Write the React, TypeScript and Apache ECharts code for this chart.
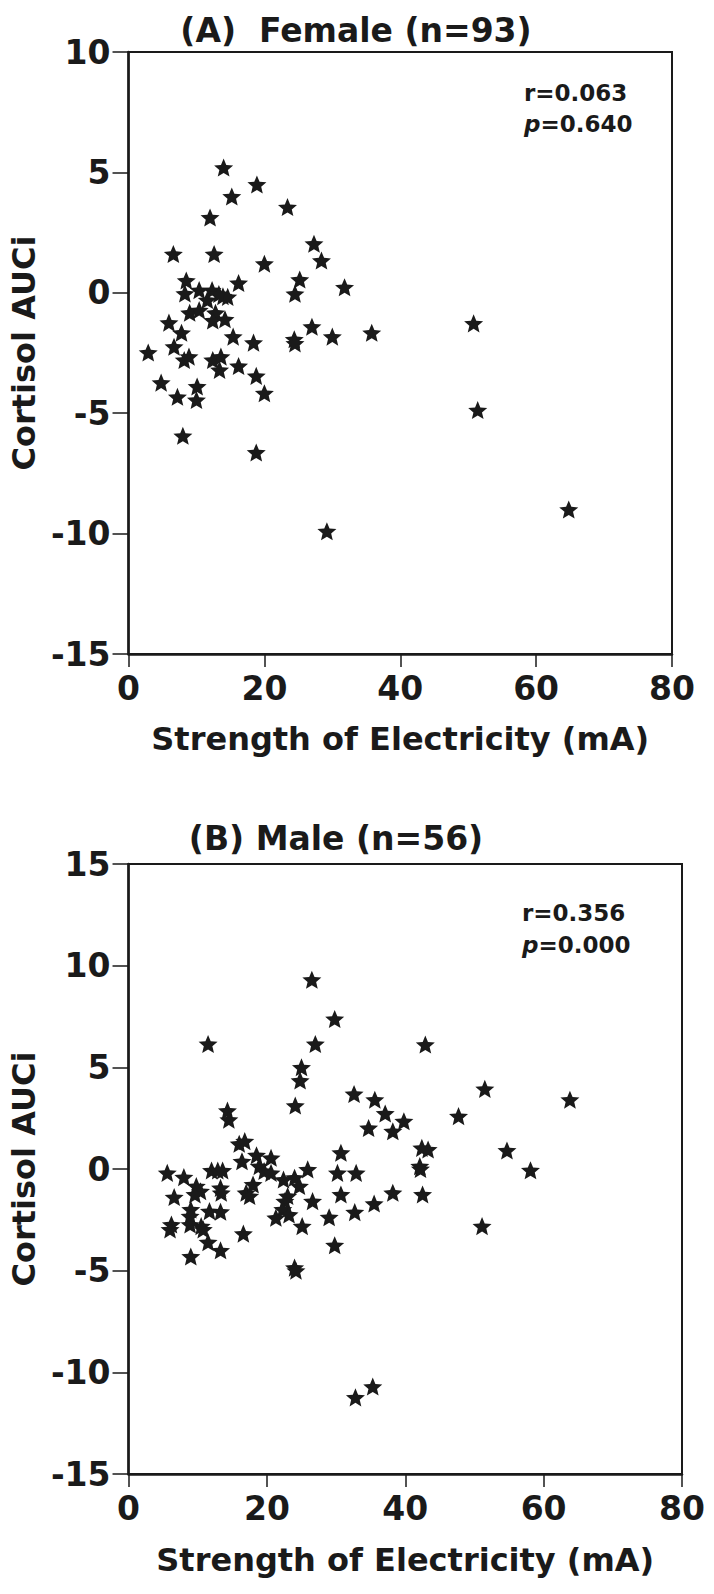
import React, { useEffect, useRef } from "react";
import * as echarts from "echarts";

// Panel A: Female
const femaleX = [14.0, 18.9, 15.2, 23.4, 12.0, 6.6, 12.6, 27.3, 28.4, 20.0, 8.5, 16.2, 25.2, 31.8, 8.3, 10.4, 12.3, 13.9, 14.6, 13.3, 24.5, 11.6, 9.0, 10.4, 12.8, 12.4, 14.2, 5.95, 7.8, 27.0, 30.0, 35.8, 15.4, 18.4, 24.4, 24.5, 2.9, 6.7, 8.2, 8.9, 12.4, 13.6, 13.4, 16.2, 18.8, 20.0, 4.8, 10.1, 7.2, 10.0, 8.0, 18.8, 29.2, 50.8, 51.4, 64.8];
const femaleY = [5.2, 4.5, 4.0, 3.56, 3.13, 1.61, 1.61, 2.04, 1.34, 1.21, 0.51, 0.41, 0.55, 0.23, -0.03, 0.11, 0.11, -0.14, -0.17, -0.05, -0.04, -0.3, -0.83, -0.72, -0.83, -1.15, -1.1, -1.24, -1.66, -1.41, -1.82, -1.66, -1.82, -2.07, -1.93, -2.1, -2.48, -2.24, -2.79, -2.65, -2.79, -2.65, -3.2, -3.04, -3.45, -4.17, -3.73, -3.89, -4.32, -4.45, -5.94, -6.63, -9.9, -1.27, -4.87, -9.0];

// Panel B: Male
const maleX = [26.5, 29.8, 11.5, 27.0, 25.0, 42.9, 24.8, 24.1, 32.6, 35.6, 37.1, 39.8, 34.7, 38.2, 14.3, 14.5, 16.0, 16.8, 18.5, 20.6, 16.4, 18.9, 19.6, 20.6, 30.7, 42.4, 43.3, 42.1, 42.2, 5.6, 12.0, 12.9, 13.6, 8.0, 9.8, 10.4, 9.6, 13.3, 13.4, 6.6, 17.0, 17.5, 18.0, 22.4, 24.0, 25.9, 24.7, 23.0, 30.2, 32.9, 30.7, 38.2, 42.5, 26.6, 35.5, 32.7, 29.0, 22.6, 22.3, 21.3, 23.2, 25.1, 9.0, 8.9, 11.7, 13.3, 6.2, 6.0, 8.9, 10.5, 10.8, 16.6, 51.5, 63.8, 47.7, 54.7, 58.1, 51.1, 32.8, 35.3, 9.0, 11.5, 13.3, 24.0, 24.2, 29.8];
const maleY = [9.31, 7.38, 6.15, 6.15, 5.0, 6.12, 4.35, 3.12, 3.69, 3.41, 2.73, 2.35, 2.02, 1.86, 2.87, 2.43, 1.24, 1.37, 0.68, 0.55, 0.38, 0.14, -0.1, -0.19, 0.8, 1.04, 0.96, 0.14, 0.0, -0.19, -0.07, -0.07, -0.07, -0.4, -0.84, -1.09, -1.25, -0.93, -1.17, -1.38, -1.17, -1.33, -0.76, -0.52, -0.43, -0.02, -0.84, -1.33, -0.19, -0.19, -1.25, -1.17, -1.25, -1.58, -1.7, -2.12, -2.37, -1.58, -1.99, -2.4, -2.24, -2.81, -1.99, -2.32, -2.07, -2.1, -2.73, -2.97, -2.73, -2.81, -2.97, -3.18, 3.94, 3.41, 2.6, 0.91, -0.06, -2.81, -11.23, -10.7, -4.3, -3.6, -4.0, -4.85, -5.0, -3.75];

const titleA = "(A)  Female (n=93)";
const titleB = "(B) Male (n=56)";
const statsA = ["r=0.063", "0.640"];
const statsB = ["r=0.356", "0.000"];
const xName = "Strength of Electricity (mA)";
const yName = "Cortisol AUCi";

const FONT = "DejaVu Sans";
const INK = "#1a1a1a";
const STAR = "path://M50,0 L63.23,31.8 L97.55,34.55 L71.4,56.95 L79.39,90.45 L50,72.5 L20.61,90.45 L28.6,56.95 L2.45,34.55 L36.77,31.8 Z";

function pairs(xs: number[], ys: number[]) {
  return xs.map((x, i) => [x, ys[i]]);
}

function xAxisCfg(gridIndex: number, nameGap: number) {
  return {
    gridIndex,
    type: "value",
    min: 0,
    max: 80,
    interval: 20,
    axisLine: { show: true, onZero: false, lineStyle: { color: INK, width: 2.5 } },
    axisTick: { show: true, inside: false, length: 13, lineStyle: { color: INK, width: 1.5 } },
    axisLabel: { fontFamily: FONT, fontWeight: "bold", fontSize: 33, color: INK, margin: 18 },
    splitLine: { show: false },
    name: xName,
    nameLocation: "middle",
    nameGap,
    nameTextStyle: { fontFamily: FONT, fontWeight: "bold", fontSize: 32, color: INK },
  };
}

function yAxisCfg(gridIndex: number, min: number, max: number) {
  return {
    gridIndex,
    type: "value",
    min,
    max,
    interval: 5,
    axisLine: { show: true, onZero: false, lineStyle: { color: INK, width: 2.5 } },
    axisTick: { show: true, inside: false, length: 16, lineStyle: { color: INK, width: 1.5 } },
    axisLabel: { fontFamily: FONT, fontWeight: "bold", fontSize: 33, color: INK, margin: 18 },
    splitLine: { show: false },
    name: yName,
    nameLocation: "middle",
    nameGap: 80,
    nameTextStyle: { fontFamily: FONT, fontWeight: "bold", fontSize: 32, color: INK },
  };
}

function statText(lines: string[], x: number, y1: number, y2: number) {
  return [
    {
      type: "text",
      x,
      y: y1,
      style: { text: lines[0], fontFamily: FONT, fontWeight: "bold", fontSize: 23, fill: INK, textVerticalAlign: "middle" },
    },
    {
      type: "text",
      x,
      y: y2,
      style: {
        text: "{i|p}=" + lines[1],
        fontFamily: FONT,
        fontWeight: "bold",
        fontSize: 23,
        fill: INK,
        textVerticalAlign: "middle",
        rich: { i: { fontFamily: FONT, fontWeight: "bold", fontStyle: "italic", fontSize: 23, fill: INK } },
      },
    },
  ];
}

export default function App() {
  const ref = useRef<HTMLDivElement>(null);
  useEffect(() => {
    if (!ref.current) return;
    const chart = echarts.init(ref.current, undefined, { renderer: "svg" });
    chart.setOption({
      animation: false,
      backgroundColor: "#ffffff",
      grid: [
        { left: 125, top: 52, width: 547, height: 602, show: true, borderColor: INK, borderWidth: 2, backgroundColor: "transparent" },
        { left: 125, top: 864, width: 557, height: 610, show: true, borderColor: INK, borderWidth: 2, backgroundColor: "transparent" },
      ],
      xAxis: [xAxisCfg(0, 69), xAxisCfg(1, 70)],
      yAxis: [yAxisCfg(0, -15, 10), yAxisCfg(1, -15, 15)],
      series: [
        {
          type: "scatter",
          xAxisIndex: 0,
          yAxisIndex: 0,
          data: pairs(femaleX, femaleY),
          symbol: STAR,
          symbolKeepAspect: true,
          symbolSize: 19,
          itemStyle: { color: INK, opacity: 1 },
        },
        {
          type: "scatter",
          xAxisIndex: 1,
          yAxisIndex: 1,
          data: pairs(maleX, maleY),
          symbol: STAR,
          symbolKeepAspect: true,
          symbolSize: 19,
          itemStyle: { color: INK, opacity: 1 },
        },
      ],
      graphic: [
        {
          type: "text",
          x: 356,
          y: 30,
          style: { text: titleA, fontFamily: FONT, fontWeight: "bold", fontSize: 33, fill: INK, textAlign: "center", textVerticalAlign: "middle" },
        },
        {
          type: "text",
          x: 336,
          y: 838,
          style: { text: titleB, fontFamily: FONT, fontWeight: "bold", fontSize: 33, fill: INK, textAlign: "center", textVerticalAlign: "middle" },
        },
        ...statText(statsA, 524, 93, 124),
        ...statText(statsB, 522, 913, 945),
      ],
    });
    return () => chart.dispose();
  }, []);
  return <div ref={ref} style={{ position: "absolute", left: 0, top: 0, width: 714, height: 1594 }} />;
}
